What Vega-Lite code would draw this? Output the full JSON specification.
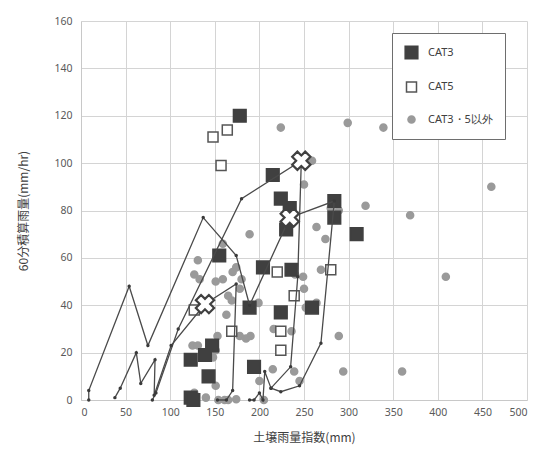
{
  "$schema": "https://vega.github.io/schema/vega-lite/v6.json",
  "autosize": {"type": "none"},
  "width": 446,
  "height": 379,
  "padding": {"left": 81, "top": 21, "right": 26, "bottom": 61},
  "background": "white",
  "config": {
    "view": {"stroke": null},
    "font": "Noto Sans CJK JP",
    "axis": {
      "gridColor": "#d4d4d4",
      "domainColor": "#c8c8c8",
      "ticks": false,
      "labelColor": "#595959",
      "labelFontSize": 10.5,
      "labelFont": "Noto Sans",
      "titleColor": "#404040",
      "titleFontSize": 12,
      "titleFontWeight": "normal"
    },
    "legend": {
      "labelFont": "Noto Sans",
      "labelFontSize": 11,
      "labelColor": "#404040"
    }
  },
  "data": {
    "values": [
      {"type": "CAT3・5以外", "x": 299, "y": 117},
      {"type": "CAT3・5以外", "x": 339, "y": 115},
      {"type": "CAT3・5以外", "x": 460, "y": 90},
      {"type": "CAT3・5以外", "x": 259, "y": 101},
      {"type": "CAT3・5以外", "x": 250, "y": 91},
      {"type": "CAT3・5以外", "x": 319, "y": 82},
      {"type": "CAT3・5以外", "x": 369, "y": 78},
      {"type": "CAT3・5以外", "x": 289, "y": 80},
      {"type": "CAT3・5以外", "x": 280, "y": 81},
      {"type": "CAT3・5以外", "x": 224, "y": 115},
      {"type": "CAT3・5以外", "x": 409, "y": 52},
      {"type": "CAT3・5以外", "x": 289, "y": 27},
      {"type": "CAT3・5以外", "x": 294, "y": 12},
      {"type": "CAT3・5以外", "x": 360, "y": 12},
      {"type": "CAT3・5以外", "x": 264, "y": 73},
      {"type": "CAT3・5以外", "x": 274, "y": 68},
      {"type": "CAT3・5以外", "x": 269, "y": 55},
      {"type": "CAT3・5以外", "x": 249, "y": 52},
      {"type": "CAT3・5以外", "x": 250, "y": 47},
      {"type": "CAT3・5以外", "x": 264, "y": 41},
      {"type": "CAT3・5以外", "x": 252, "y": 39},
      {"type": "CAT3・5以外", "x": 131, "y": 59},
      {"type": "CAT3・5以外", "x": 127, "y": 53},
      {"type": "CAT3・5以外", "x": 133, "y": 51},
      {"type": "CAT3・5以外", "x": 151, "y": 50},
      {"type": "CAT3・5以外", "x": 159, "y": 51},
      {"type": "CAT3・5以外", "x": 170, "y": 54},
      {"type": "CAT3・5以外", "x": 174, "y": 56},
      {"type": "CAT3・5以外", "x": 180, "y": 51},
      {"type": "CAT3・5以外", "x": 178, "y": 47},
      {"type": "CAT3・5以外", "x": 165, "y": 44},
      {"type": "CAT3・5以外", "x": 169, "y": 42},
      {"type": "CAT3・5以外", "x": 189, "y": 70},
      {"type": "CAT3・5以外", "x": 199, "y": 41},
      {"type": "CAT3・5以外", "x": 163, "y": 36},
      {"type": "CAT3・5以外", "x": 153, "y": 27},
      {"type": "CAT3・5以外", "x": 178, "y": 27},
      {"type": "CAT3・5以外", "x": 190, "y": 27},
      {"type": "CAT3・5以外", "x": 185, "y": 26},
      {"type": "CAT3・5以外", "x": 125, "y": 23},
      {"type": "CAT3・5以外", "x": 131, "y": 23},
      {"type": "CAT3・5以外", "x": 148, "y": 18},
      {"type": "CAT3・5以外", "x": 151, "y": 21},
      {"type": "CAT3・5以外", "x": 151, "y": 6},
      {"type": "CAT3・5以外", "x": 127, "y": 3},
      {"type": "CAT3・5以外", "x": 140, "y": 1},
      {"type": "CAT3・5以外", "x": 154, "y": 0},
      {"type": "CAT3・5以外", "x": 161, "y": 0},
      {"type": "CAT3・5以外", "x": 165, "y": 0},
      {"type": "CAT3・5以外", "x": 174, "y": 0.3},
      {"type": "CAT3・5以外", "x": 200, "y": 8},
      {"type": "CAT3・5以外", "x": 205, "y": 0},
      {"type": "CAT3・5以外", "x": 215, "y": 13},
      {"type": "CAT3・5以外", "x": 239, "y": 12},
      {"type": "CAT3・5以外", "x": 245, "y": 8},
      {"type": "CAT3・5以外", "x": 159, "y": 66},
      {"type": "CAT3・5以外", "x": 216, "y": 30},
      {"type": "CAT3・5以外", "x": 236, "y": 29},
      {"type": "CAT3・5以外", "x": 240, "y": 53},
      {"type": "CAT3", "x": 178, "y": 120},
      {"type": "CAT3", "x": 215, "y": 95},
      {"type": "CAT3", "x": 224, "y": 85},
      {"type": "CAT3", "x": 234, "y": 81},
      {"type": "CAT3", "x": 230, "y": 72},
      {"type": "CAT3", "x": 236, "y": 55},
      {"type": "CAT3", "x": 204, "y": 56},
      {"type": "CAT3", "x": 155, "y": 61},
      {"type": "CAT3", "x": 189, "y": 39},
      {"type": "CAT3", "x": 224, "y": 37},
      {"type": "CAT3", "x": 259, "y": 39},
      {"type": "CAT3", "x": 284, "y": 84},
      {"type": "CAT3", "x": 284, "y": 77},
      {"type": "CAT3", "x": 309, "y": 70},
      {"type": "CAT3", "x": 147, "y": 23},
      {"type": "CAT3", "x": 139, "y": 19},
      {"type": "CAT3", "x": 123, "y": 17},
      {"type": "CAT3", "x": 143, "y": 10},
      {"type": "CAT3", "x": 194, "y": 14},
      {"type": "CAT3", "x": 123, "y": 1},
      {"type": "CAT3", "x": 126, "y": 0},
      {"type": "CAT5", "x": 148, "y": 111},
      {"type": "CAT5", "x": 164, "y": 114},
      {"type": "CAT5", "x": 157, "y": 99},
      {"type": "CAT5", "x": 220, "y": 54},
      {"type": "CAT5", "x": 239, "y": 44},
      {"type": "CAT5", "x": 169, "y": 29},
      {"type": "CAT5", "x": 224, "y": 29},
      {"type": "CAT5", "x": 224, "y": 21},
      {"type": "CAT5", "x": 127, "y": 38},
      {"type": "CAT5", "x": 280, "y": 55},
      {"type": "line", "series": "S1", "order": 1, "x": 8.7, "y": 0},
      {"type": "line", "series": "S1", "order": 2, "x": 8.7, "y": 4},
      {"type": "line", "series": "S1", "order": 3, "x": 54, "y": 48},
      {"type": "line", "series": "S1", "order": 4, "x": 75, "y": 23},
      {"type": "line", "series": "S1", "order": 5, "x": 137, "y": 77},
      {"type": "line", "series": "S1", "order": 6, "x": 174, "y": 61},
      {"type": "line", "series": "S1", "order": 7, "x": 189, "y": 40},
      {"type": "line", "series": "S1", "order": 8, "x": 234, "y": 77},
      {"type": "line", "series": "S2", "order": 1, "x": 38, "y": 1},
      {"type": "line", "series": "S2", "order": 2, "x": 44, "y": 5},
      {"type": "line", "series": "S2", "order": 3, "x": 62, "y": 20},
      {"type": "line", "series": "S2", "order": 4, "x": 67, "y": 7},
      {"type": "line", "series": "S2", "order": 5, "x": 83, "y": 17},
      {"type": "line", "series": "S2", "order": 6, "x": 82, "y": 2},
      {"type": "line", "series": "S2", "order": 7, "x": 101, "y": 23},
      {"type": "line", "series": "S2", "order": 8, "x": 139, "y": 40.5},
      {"type": "line", "series": "S2", "order": 9, "x": 174, "y": 49},
      {"type": "line", "series": "S2", "order": 10, "x": 170, "y": 4},
      {"type": "line", "series": "S2", "order": 11, "x": 163, "y": 0},
      {"type": "line", "series": "S2", "order": 12, "x": 153, "y": 0},
      {"type": "line", "series": "S3", "order": 1, "x": 80, "y": 0},
      {"type": "line", "series": "S3", "order": 2, "x": 84, "y": 3},
      {"type": "line", "series": "S3", "order": 3, "x": 109, "y": 30},
      {"type": "line", "series": "S3", "order": 4, "x": 180, "y": 85},
      {"type": "line", "series": "S3", "order": 5, "x": 247, "y": 101},
      {"type": "line", "series": "S3", "order": 6, "x": 243, "y": 52},
      {"type": "line", "series": "S3", "order": 7, "x": 235, "y": 14},
      {"type": "line", "series": "S3", "order": 8, "x": 213, "y": 5},
      {"type": "line", "series": "S3", "order": 9, "x": 206, "y": 12},
      {"type": "line", "series": "S3", "order": 10, "x": 204, "y": 0},
      {"type": "line", "series": "S3", "order": 11, "x": 200, "y": 3},
      {"type": "line", "series": "S3", "order": 12, "x": 194, "y": 0},
      {"type": "line", "series": "S3", "order": 13, "x": 189, "y": 0},
      {"type": "line", "series": "S4", "order": 1, "x": 213, "y": 5},
      {"type": "line", "series": "S4", "order": 2, "x": 224, "y": 3.5},
      {"type": "line", "series": "S4", "order": 3, "x": 245, "y": 6},
      {"type": "line", "series": "S4", "order": 4, "x": 269, "y": 24},
      {"type": "line", "series": "S4", "order": 5, "x": 284, "y": 84},
      {"type": "line", "series": "S4", "order": 6, "x": 234, "y": 77},
      {"type": "X", "x": 139, "y": 40.5},
      {"type": "X", "x": 234, "y": 77},
      {"type": "X", "x": 247, "y": 101}
    ]
  },
  "encoding": {
    "x": {
      "field": "x", "type": "quantitative",
      "scale": {"domain": [0, 500], "nice": false},
      "axis": {"values": [0, 50, 100, 150, 200, 250, 300, 350, 400, 450, 500], "labelPadding": 7, "title": "土壌雨量指数(mm)", "titlePadding": 15}
    },
    "y": {
      "field": "y", "type": "quantitative",
      "scale": {"domain": [0, 160], "nice": false},
      "axis": {"values": [0, 20, 40, 60, 80, 100, 120, 140, 160], "labelPadding": 9, "title": "60分積算雨量(mm/hr)", "titlePadding": 23}
    }
  },
  "layer": [
    {
      "transform": [{"filter": "datum.type == 'CAT3' || datum.type == 'CAT5' || datum.type == 'CAT3・5以外'"}],
      "mark": {"type": "point", "filled": true, "opacity": 1, "strokeWidth": 1.5},
      "encoding": {
        "shape": {"field": "type", "type": "nominal", "scale": {"domain": ["CAT3", "CAT5", "CAT3・5以外"], "range": ["square", "square", "circle"]},
          "legend": {"title": null, "orient": "none", "legendX": 311, "legendY": 12, "fillColor": "white", "strokeColor": "#6e6e6e", "padding": 12, "rowPadding": 17, "symbolStrokeWidth": 1.5, "labelOffset": 9}},
        "fill": {"field": "type", "type": "nominal", "scale": {"domain": ["CAT3", "CAT5", "CAT3・5以外"], "range": ["#404040", "#ffffff", "#9a9a9a"]}, "legend": {"title": null}},
        "stroke": {"field": "type", "type": "nominal", "scale": {"domain": ["CAT3", "CAT5", "CAT3・5以外"], "range": ["#404040", "#555555", "#9a9a9a"]}, "legend": {"title": null}},
        "size": {"field": "type", "type": "nominal", "scale": {"type": "ordinal", "domain": ["CAT3", "CAT5", "CAT3・5以外"], "range": [160, 100, 50]}, "legend": {"title": null}}
      }
    },
    {
      "transform": [{"filter": "datum.type == 'line'"}],
      "mark": {"type": "line", "color": "#4a4a4a", "strokeWidth": 1.3, "point": {"filled": true, "size": 12, "color": "#3a3a3a"}},
      "encoding": {
        "detail": {"field": "series", "type": "nominal"},
        "order": {"field": "order", "type": "quantitative"}
      }
    },
    {
      "transform": [{"filter": "datum.type == 'X'"}],
      "mark": {"type": "point", "shape": "cross", "angle": 45, "size": 340, "filled": true, "fill": "#ffffff", "stroke": "#404040", "strokeWidth": 2.2, "opacity": 1}
    }
  ]
}
